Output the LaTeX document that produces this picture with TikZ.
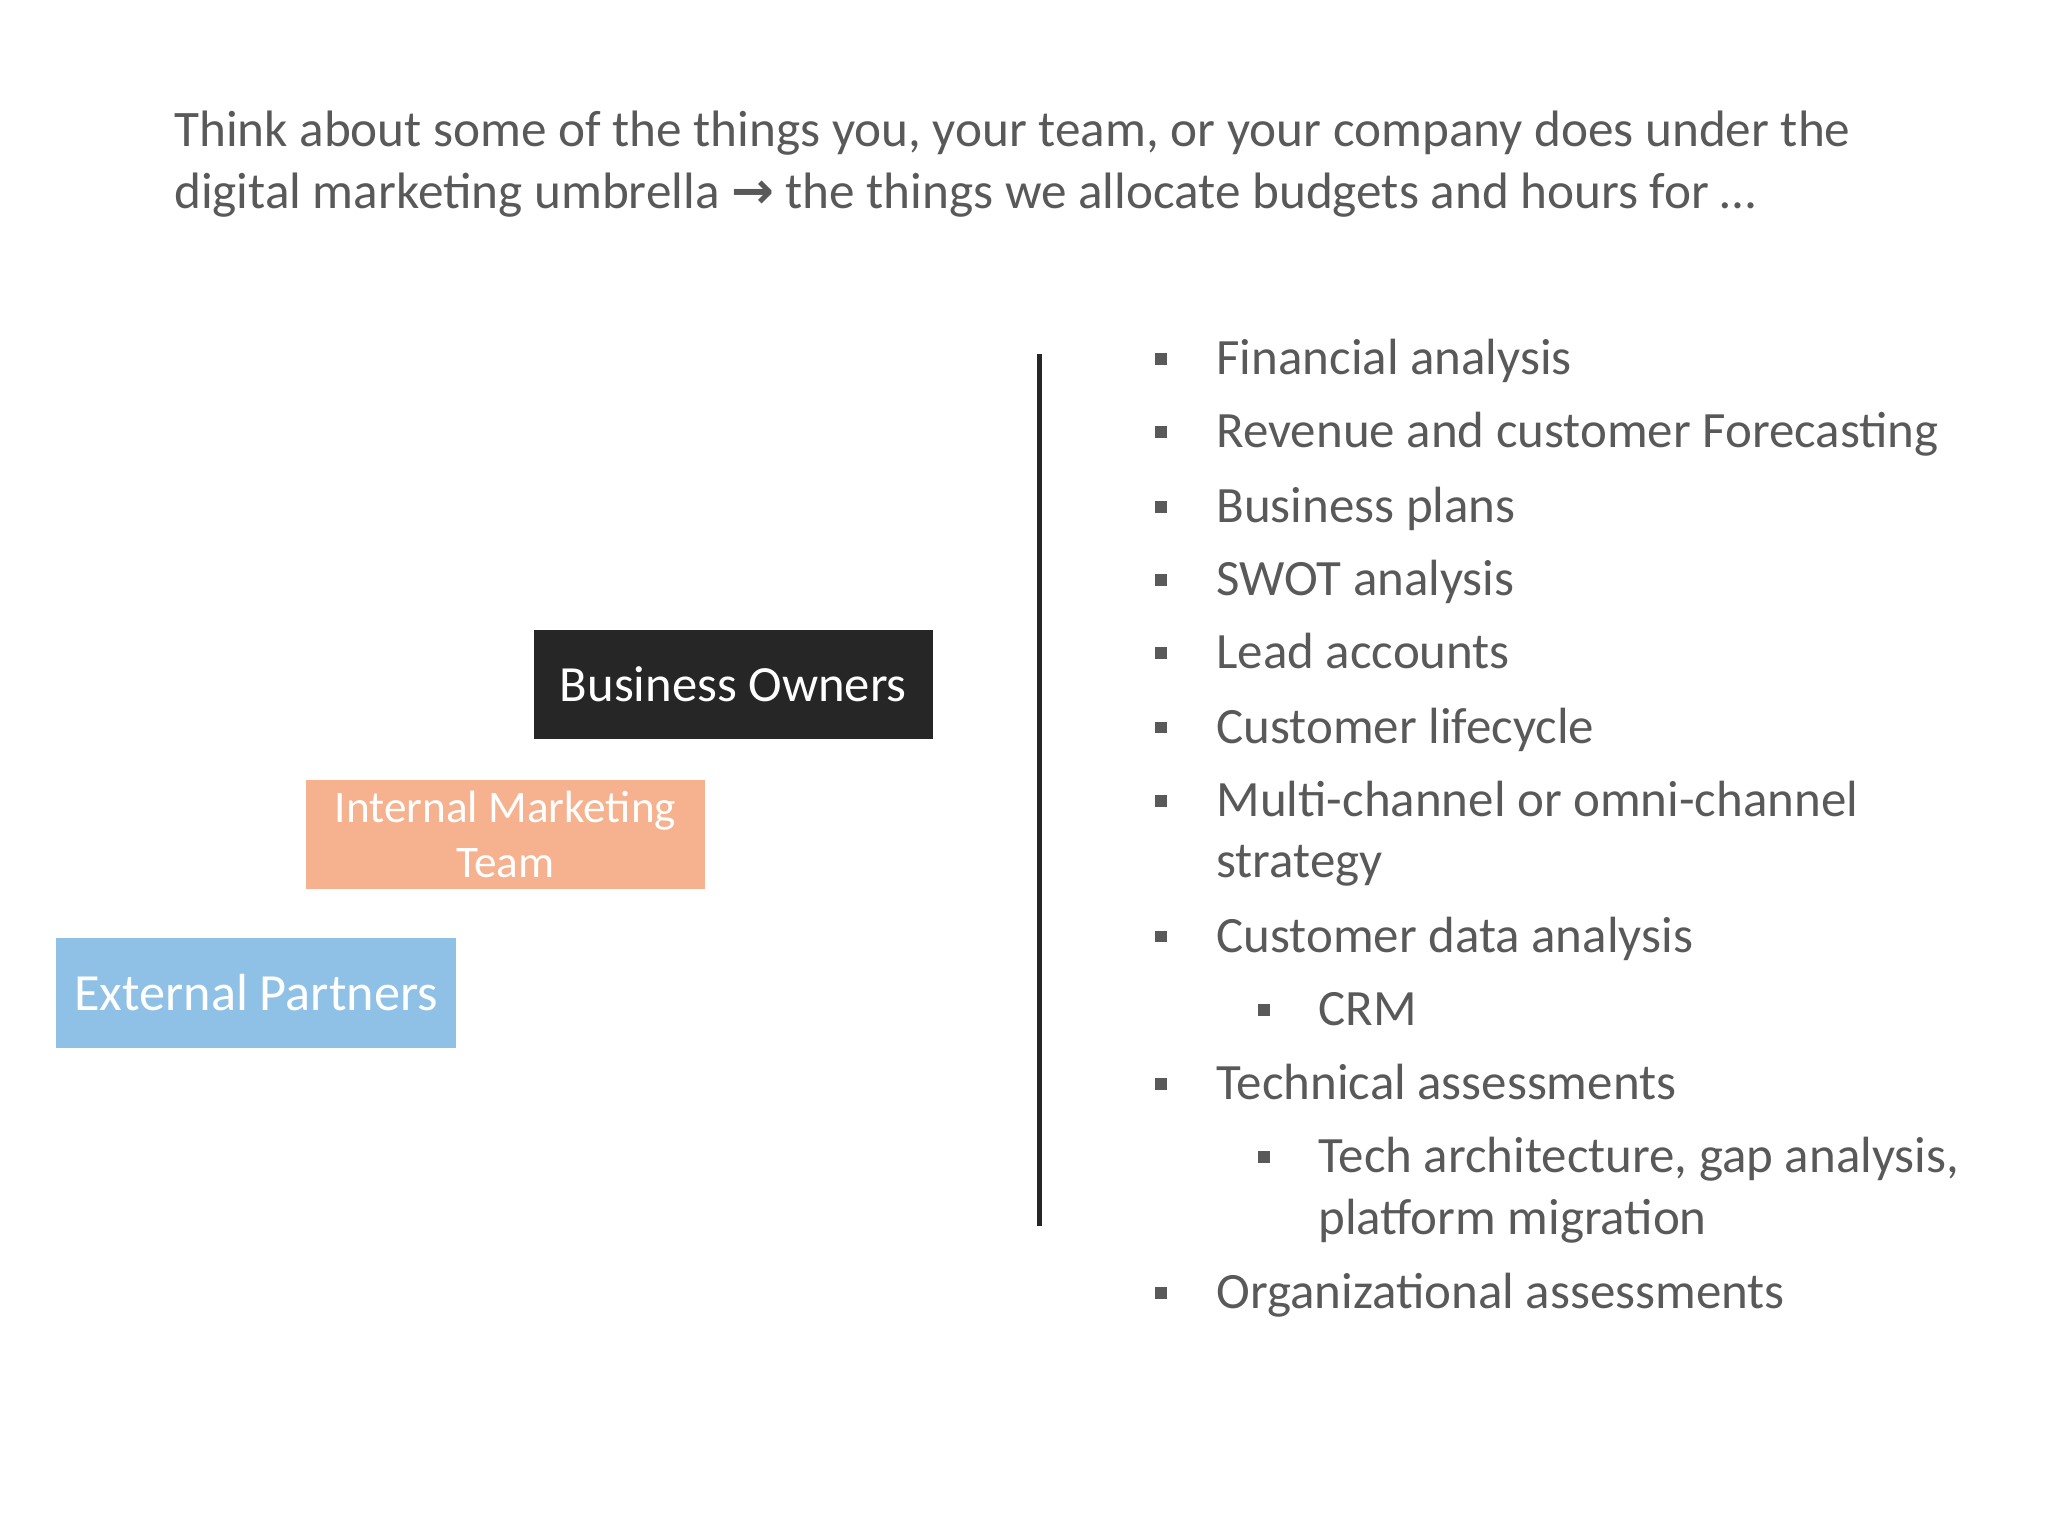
\documentclass[tikz,border=0pt]{standalone}
\usepackage{fontspec}
\setmainfont{Carlito}
\newfontfamily\symf{DejaVu Sans}
\definecolor{txt}{HTML}{595959}
\definecolor{dark}{HTML}{262626}
\definecolor{peach}{HTML}{F6B18E}
\definecolor{sky}{HTML}{8FC1E6}
\begin{document}
\begin{tikzpicture}[x=0.5pt,y=-0.5pt,
  item/.style={anchor=base west,inner sep=0,text=txt,font=\fontsize{19.5}{23}\selectfont},
  bul/.style={fill=txt,minimum size=4.5pt,inner sep=0},
  box/.style={minimum width=153pt,minimum height=42pt,inner sep=0,align=center}]
\useasboundingbox (0,0) rectangle (1568,1176);
\node[anchor=base west,inner sep=0,text=txt,align=left,font=\fontsize{19.6}{24}\selectfont] (title) at (133,160)
 {Think about some of the things you, your team, or your company does under the\\digital marketing umbrella {\symf\bfseries →} the things we allocate budgets and hours for …};
\draw[dark,line width=2pt] (796,271) coordinate (t) -- (796,939) coordinate (b);
\node[box,fill=dark,text=white,font=\fontsize{19.4}{21}\selectfont] (bo) at (561.5,524) {Business Owners};
\node[box,fill=peach,text=white,font=\fontsize{17.3}{21}\selectfont] (im) at (387,639) {Internal Marketing\\Team};
\node[box,fill=sky,text=white,font=\fontsize{20}{21}\selectfont] (ep) at (196,760) {External Partners};
\foreach \y/\t [count=\i] in {287/Financial analysis,343/Revenue and customer Forecasting,400/Business plans,456/SWOT analysis,512/Lead accounts,569/Customer lifecycle,625/Multi-channel or omni-channel,729/Customer data analysis,842/Technical assessments,1002/Organizational assessments}{
  \node[bul] (b\i) at (889,\y-12) {};
  \node[item] (i\i) at (931,\y) {\t};
}
\node[item] (s1) at (931,672) {strategy};
\node[bul] (c1) at (968,773) {};
\node[item] (c1t) at (1009,785) {CRM};
\node[bul] (c2) at (968,886) {};
\node[item] (c2t) at (1009,898) {Tech architecture, gap analysis,};
\node[item] (c2u) at (1009,945) {platform migration};
\end{tikzpicture}
\end{document}
